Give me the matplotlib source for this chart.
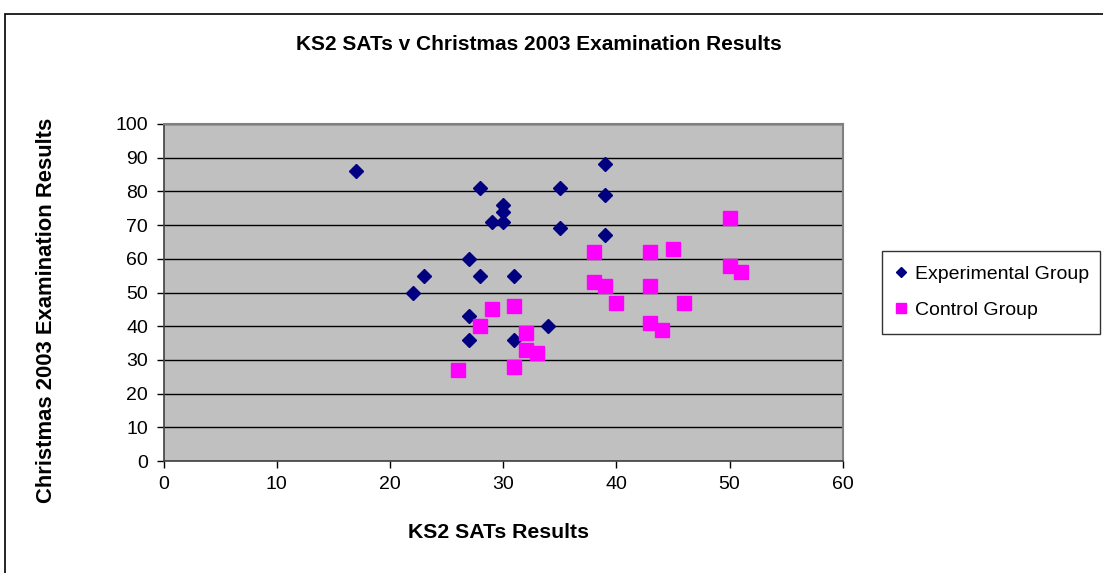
import matplotlib
matplotlib.use("Agg")
import matplotlib.pyplot as plt
from matplotlib.patches import Rectangle

plt.rcParams['font.family'] = ['Liberation Sans', 'DejaVu Sans']

# KS2 SATs score vs Christmas exam result
exp_x = [17, 22, 23, 27, 27, 27, 28, 28, 29, 30, 30, 30, 31, 31, 34, 35, 35, 39, 39, 39]
exp_y = [86, 50, 55, 60, 43, 36, 81, 55, 71, 76, 74, 71, 55, 36, 40, 81, 69, 88, 79, 67]

ctrl_x = [26, 28, 29, 31, 31, 32, 32, 33, 38, 38, 39, 40, 43, 43, 43, 44, 45, 46, 50, 50, 51]
ctrl_y = [27, 40, 45, 46, 28, 38, 33, 32, 62, 53, 52, 47, 62, 52, 41, 39, 63, 47, 72, 58, 56]

x_ticks = [0, 10, 20, 30, 40, 50, 60]
y_ticks = [0, 10, 20, 30, 40, 50, 60, 70, 80, 90, 100]

W, H = 1103, 573
fig = plt.figure(figsize=(W / 100, H / 100), dpi=100)

# outer chart frame (cut off on the right/bottom like the screenshot)
fig.patches.append(Rectangle((5 / W, -0.01), 1.0, 1 - 14 / H + 0.01, transform=fig.transFigure,
                             fill=False, edgecolor='black', linewidth=1.2))

ax = fig.add_axes([163.5 / W, 1 - 461 / H, (842.7 - 163.5) / W, (461 - 124) / H])
ax.set_facecolor('#C0C0C0')
ax.set_xlim(0, 60)
ax.set_ylim(0, 100)
ax.set_xticks(x_ticks)
ax.set_yticks(y_ticks)
ax.yaxis.grid(True, color='black', linewidth=1)
ax.set_axisbelow(True)
ax.tick_params(direction='out', length=5, width=1, labelsize=14, colors='black')
ax.tick_params(axis='y', pad=6)
ax.tick_params(axis='x', pad=6)

for side in ['top', 'right']:
    ax.spines[side].set_color('#808080')
    ax.spines[side].set_linewidth(1.5)
for side in ['left', 'bottom']:
    ax.spines[side].set_color('#404040')
    ax.spines[side].set_linewidth(1.2)

ax.plot(exp_x, exp_y, linestyle='none', marker='D', markersize=7, color='#000080',
        label='Experimental Group', clip_on=False, zorder=3)
ax.plot(ctrl_x, ctrl_y, linestyle='none', marker='s', markersize=10.5, color='#FF00FF',
        label='Control Group', clip_on=False, zorder=3)

fig.text(539 / W, 1 - 44 / H, 'KS2 SATs v Christmas 2003 Examination Results',
         ha='center', va='center', fontsize=15, fontweight='bold')
fig.text(499 / W, 1 - 533 / H, 'KS2 SATs Results', ha='center', va='center',
         fontsize=15.3, fontweight='bold')
fig.text(47 / W, 1 - 310 / H, 'Christmas 2003 Examination Results', ha='center', va='center',
         rotation=90, fontsize=15.8, fontweight='bold')

leg = fig.legend(loc='upper left', bbox_to_anchor=(882 / W, 1 - 251 / H), fontsize=14,
                 frameon=True, fancybox=False, edgecolor='black', handlelength=0.5,
                 handletextpad=0.25, labelspacing=0.95, borderpad=0.75, borderaxespad=0,
                 markerscale=0.75)
leg.get_frame().set_linewidth(1)
# push the legend contents a little to the right, like the reference
leg._legend_box.align = 'left'
for h in leg.get_texts():
    h.set_x(4)

fig.savefig('out.png', dpi=100, facecolor='white')
